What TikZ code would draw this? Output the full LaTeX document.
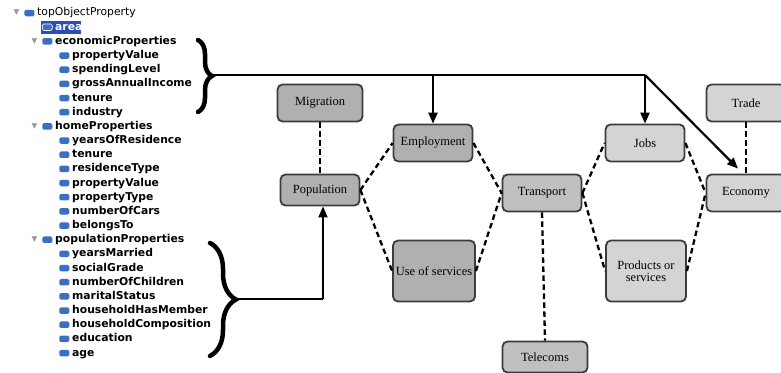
\documentclass[tikz,border=0pt]{standalone}
\usepackage{fontspec}
\usepackage{xcolor}
\usetikzlibrary{arrows.meta,decorations.pathreplacing}
\setmainfont{Liberation Serif}
\newfontfamily\treefont{DejaVu Sans}

\definecolor{iconblue}{HTML}{3A6FC4}
\definecolor{selblue}{HTML}{2B4DB5}
\definecolor{boxline}{HTML}{3C3C3C}
\definecolor{darkfill}{HTML}{B0B0B0}
\definecolor{midfill}{HTML}{C0C0C0}
\definecolor{lightfill}{HTML}{D4D4D4}

\tikzset{
  propicon/.style={fill=iconblue, rounded corners=1.5pt, minimum width=10pt,
    minimum height=6.5pt, inner sep=0pt},
  selicon/.style={propicon, draw=white, line width=0.6pt},
  prop/.style={anchor=west, inner sep=0pt, text height=8pt, text depth=2pt,
    font=\treefont\bfseries\fontsize{10.8}{12}\selectfont,
    label={[propicon, label distance=2.5pt]left:}},
  group/.style={prop, label={[text=gray!80, font=\treefont\fontsize{7.5}{7.5}\selectfont,
    xshift=-14pt]left:▼}},
  concept/.style={draw=boxline, line width=1.8pt, rounded corners=5pt,
    minimum width=79pt, minimum height=37pt, align=center,
    font=\fontsize{12.5}{12.5}\selectfont, inner sep=1pt},
  darkbox/.style={concept, fill=darkfill},
  midbox/.style={concept, fill=midfill},
  lightbox/.style={concept, fill=lightfill},
  link/.style={line width=2.3pt, dash pattern=on 5.5pt off 3.5pt},
  feed/.style={line width=2.2pt, -{Triangle[length=11pt,width=9pt]}},
  bracket/.style={line width=4.5pt, line cap=round,
    decorate, decoration={brace, amplitude=#1}}
}

\begin{document}
\begin{tikzpicture}[x=1pt, y=-1pt]
    \useasboundingbox (0,0) rectangle (781,372);

    % Property tree
    \node[group, font=\treefont\fontsize{10.8}{12}\selectfont] (top) at (37, 13.0) {topObjectProperty};
    \node[fill=selblue, minimum width=40pt, minimum height=13pt, inner sep=0pt] (sel) at (60.5, 27.2) {};
    \node[prop, text=white, label={[selicon, label distance=2.5pt]left:}] (area) at (55, 27.2) {area};

    \node[group] (ecoprops) at (55, 41.3) {economicProperties};
    \node[prop] (ecovalue) at (72, 55.5) {propertyValue};
    \node[prop] (spending) at (72, 69.7) {spendingLevel};
    \node[prop] (income) at (72, 83.9) {grossAnnualIncome};
    \node[prop] (ecotenure) at (72, 98.0) {tenure};
    \node[prop] (industry) at (72, 112.2) {industry};

    \node[group] (homeprops) at (55, 126.4) {homeProperties};
    \node[prop] (years) at (72, 140.5) {yearsOfResidence};
    \node[prop] (hometenure) at (72, 154.7) {tenure};
    \node[prop] (restype) at (72, 168.9) {residenceType};
    \node[prop] (homevalue) at (72, 183.0) {propertyValue};
    \node[prop] (proptype) at (72, 197.2) {propertyType};
    \node[prop] (cars) at (72, 211.4) {numberOfCars};
    \node[prop] (belongs) at (72, 225.6) {belongsTo};

    \node[group] (popprops) at (55, 239.7) {populationProperties};
    \node[prop] (married) at (72, 253.9) {yearsMarried};
    \node[prop] (grade) at (72, 268.1) {socialGrade};
    \node[prop] (children) at (72, 282.2) {numberOfChildren};
    \node[prop] (marital) at (72, 296.4) {maritalStatus};
    \node[prop] (member) at (72, 310.6) {householdHasMember};
    \node[prop] (composition) at (72, 324.7) {householdComposition};
    \node[prop] (education) at (72, 338.9) {education};
    \node[prop] (age) at (72, 353.1) {age};

    % Braces
    \draw[bracket=14pt] (198, 40) -- (198, 112);
    \coordinate (ecotip) at (213, 75);
    \draw[bracket=26pt] (210, 243) -- (210, 356);
    \coordinate (poptip) at (238, 299);

    % Concepts
    \node[darkbox, minimum width=85pt] (migr) at (320, 103) {Migration};
    \node[darkbox, minimum height=31pt] (pop) at (320, 190) {Population};
    \node[darkbox] (emp) at (433, 143) {Employment};
    \node[darkbox, minimum width=82pt, minimum height=61pt] (use) at (434, 271) {Use of services};
    \node[midbox] (trans) at (542, 193) {Transport};
    \node[midbox, minimum width=85pt, minimum height=31pt] (tele) at (545, 357) {Telecoms};
    \node[lightbox] (jobs) at (645, 143) {Jobs};
    \node[lightbox, minimum width=80pt, minimum height=61pt] (prod) at (646, 271) {Products or\\services};
    \node[lightbox] (econ) at (746, 193) {Economy};
    \node[lightbox] (trade) at (746, 103) {Trade};

    % Dashed links
    \draw[link] (migr) -- (pop);
    \draw[link] (pop.east) -- (emp.west);
    \draw[link] (pop.east) -- (use.west);
    \draw[link] (emp.east) -- (trans.west);
    \draw[link] (use.east) -- (trans.west);
    \draw[link] (trans.east) -- (jobs.west);
    \draw[link] (trans.east) -- (prod.west);
    \draw[link] (jobs.east) -- (econ.west);
    \draw[link] (prod.east) -- (econ.west);
    \draw[link] (trade.south -| econ.north) -- (econ.north);
    \draw[link] (trans.south) -- (tele.north);

    % Arrows
    \draw[line width=2.2pt] (ecotip) -- (ecotip -| jobs.north);
    \draw[feed] (ecotip -| emp.north) -- (emp.north);
    \draw[feed] (ecotip -| jobs.north) -- (jobs.north);
    \draw[feed] (ecotip -| jobs.north) -- ([xshift=-8pt, yshift=5pt]econ.north);
    \draw[line width=1.8pt] (poptip) -- ([xshift=3pt]poptip -| pop.south);
    \draw[feed, line width=1.8pt] ([xshift=3pt]poptip -| pop.south) -- ([xshift=3pt]pop.south);

\end{tikzpicture}
\end{document}
